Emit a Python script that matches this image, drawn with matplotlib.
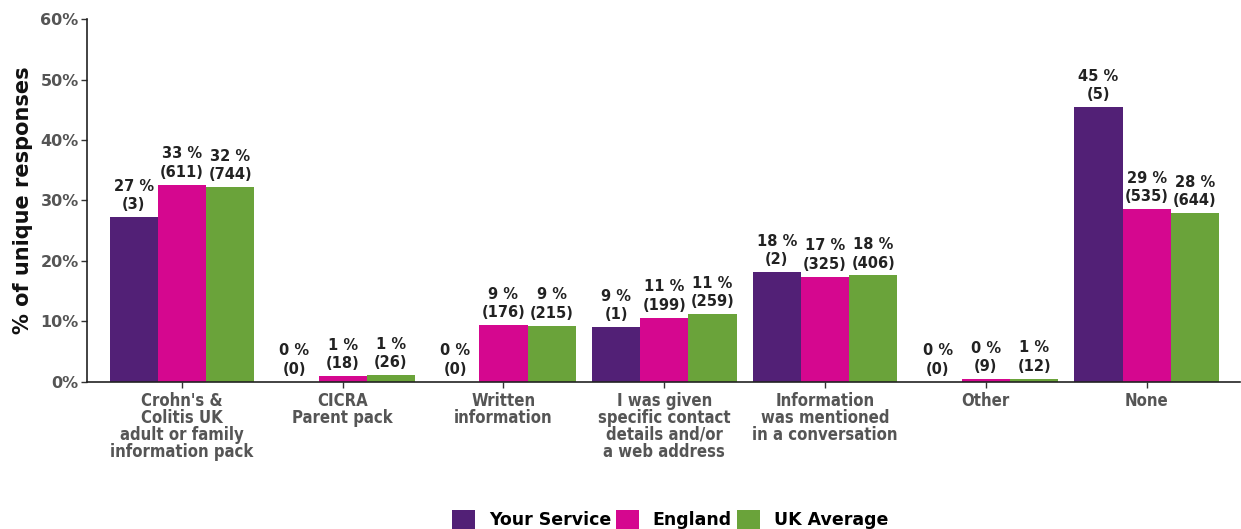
import matplotlib
matplotlib.use("Agg")
import matplotlib.pyplot as plt
import numpy as np
from matplotlib.patches import Patch

categories = ["Crohn's &\nColitis UK\nadult or family\ninformation pack",
              "CICRA\nParent pack",
              "Written\ninformation",
              "I was given\nspecific contact\ndetails and/or\na web address",
              "Information\nwas mentioned\nin a conversation",
              "Other",
              "None"]
series_names = ["Your Service", "England", "UK Average"]
your_pct = [27.27, 0.0, 0.0, 9.09, 18.18, 0.0, 45.45]
your_n = [3, 0, 0, 1, 2, 0, 5]
eng_pct = [32.6, 0.96, 9.4, 10.6, 17.4, 0.48, 28.6]
eng_n = [611, 18, 176, 199, 325, 9, 535]
uk_pct = [32.2, 1.13, 9.3, 11.2, 17.6, 0.52, 27.9]
uk_n = [744, 26, 215, 259, 406, 12, 644]
yticks = [0, 10, 20, 30, 40, 50, 60]
colors = ["#522076", "#D5078F", "#6AA33A"]

fig = plt.figure(figsize=(12.41, 5.29), dpi=100)
ax = fig.add_axes([0.0701, 0.278, 0.929, 0.686])

x = np.arange(len(categories))
w = 0.3
for i, (pct, n) in enumerate([(your_pct, your_n), (eng_pct, eng_n), (uk_pct, uk_n)]):
    pos = x + (i - 1) * w
    ax.bar(pos, pct, width=w, color=colors[i], label=series_names[i])
    for xp, v, c in zip(pos, pct, n):
        ax.text(xp, v + 0.8, f"{int(round(v))} %\n({c})", ha="center", va="bottom",
                fontsize=10.5, fontweight="bold", color="#222222", linespacing=1.3)

ax.set_xlim(-0.59, 6.58)
ax.set_ylim(0, 60)
ax.set_yticks(yticks)
ax.set_yticklabels([f"{t}%" for t in yticks], fontsize=11.5, fontweight="bold", color="#555555")
ax.set_xticks(x)
ax.set_xticklabels(categories, fontsize=12, fontweight="bold", color="#555555",
                   linespacing=0.93, fontstretch="condensed")
ax.tick_params(axis="both", length=4, width=1, color="#333333")
ax.tick_params(axis="y", pad=2)
ax.tick_params(axis="x", pad=3)
for s in ["top", "right"]:
    ax.spines[s].set_visible(False)
for s in ["left", "bottom"]:
    ax.spines[s].set_color("#222222")
    ax.spines[s].set_linewidth(1.2)
ax.set_ylabel("% of unique responses", fontsize=15, fontweight="bold", color="#111111", labelpad=5)

handles = [Patch(facecolor=c) for c in colors]
fig.legend(handles, series_names, loc="lower center", bbox_to_anchor=(0.54, -0.03), ncol=3,
           frameon=False, prop={"weight": "bold", "size": 12.5}, handlelength=1.3,
           handleheight=1.3, handletextpad=0.8, columnspacing=0.3)

fig.savefig("out.png", dpi=100)
